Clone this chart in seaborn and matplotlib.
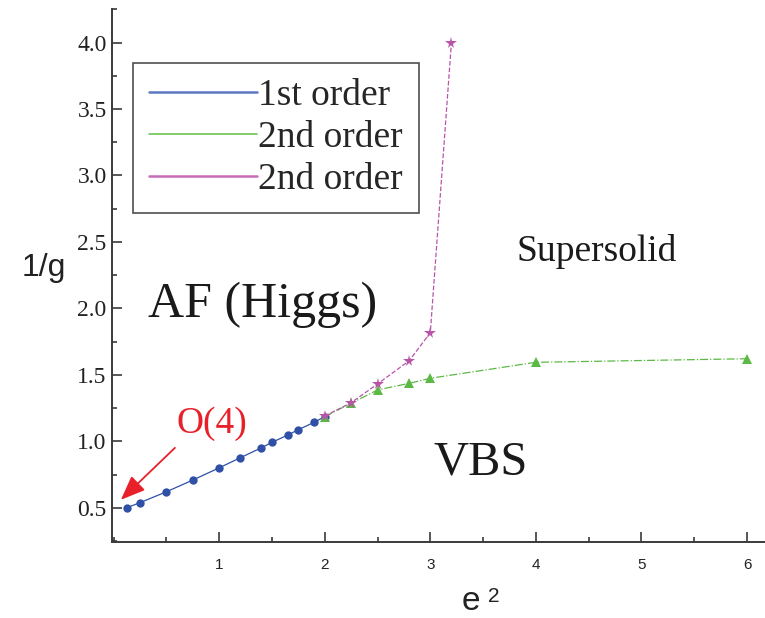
import numpy as np
import pandas as pd
import seaborn as sns
import matplotlib.pyplot as plt
from matplotlib.lines import Line2D
from matplotlib.ticker import MultipleLocator

# phase boundary data (e^2, 1/g)
e2_first = [0.125, 0.25, 0.5, 0.75, 1.0, 1.2, 1.4, 1.5, 1.65, 1.75, 1.9, 2.0]
g_first = [0.50, 0.538, 0.62, 0.708, 0.80, 0.876, 0.951, 0.992, 1.047, 1.087, 1.143, 1.185]

e2_second_a = [2.0, 2.25, 2.5, 2.8, 3.0, 4.0, 6.0]
g_second_a = [1.185, 1.286, 1.386, 1.436, 1.474, 1.594, 1.621]

e2_second_b = [2.0, 2.25, 2.5, 2.8, 3.0, 3.2]
g_second_b = [1.19, 1.29, 1.431, 1.606, 1.817, 4.0]

legend_labels = ["1st order", "2nd order", "2nd order"]

sns.set_style("white")
plt.rcParams['font.family'] = ['Liberation Serif', 'DejaVu Serif']

fig = plt.figure(figsize=(7.65, 6.18), dpi=100)
ax = fig.add_axes([0.1468, 0.1225, 0.8532, 0.8625])

blue, green, magenta = "#2f50a6", "#5cb946", "#b855a8"

sns.lineplot(x=e2_first, y=g_first, sort=False, color=blue, marker="o", markersize=6,
             markeredgewidth=0, linewidth=0.9, ax=ax, legend=False)
sns.lineplot(x=e2_second_a, y=g_second_a, sort=False, color=green, marker="^", markersize=6.5,
             markeredgewidth=0, linewidth=0.9, linestyle="-.", ax=ax, legend=False)
sns.lineplot(x=e2_second_b, y=g_second_b, sort=False, color=magenta, marker="*", markersize=8.5,
             markeredgewidth=0, linewidth=0.9, linestyle="--", ax=ax, legend=False)

ax.set_xlim(-0.012, 6.17)
ax.set_ylim(0.24, 4.25)

ax.set_xticks([1, 2, 3, 4, 5, 6])
ax.xaxis.set_minor_locator(MultipleLocator(0.5))
ax.yaxis.set_major_locator(MultipleLocator(0.5))
ax.yaxis.set_minor_locator(MultipleLocator(0.25))
ax.set_yticklabels([f"{t:.1f}" for t in ax.get_yticks()])

for s in ["top", "right"]:
    ax.spines[s].set_visible(False)
for s in ["left", "bottom"]:
    ax.spines[s].set_color("#3a3a3a")
    ax.spines[s].set_linewidth(1.4)

ax.tick_params(which="both", direction="in", color="#3a3a3a", width=1.2,
               bottom=True, left=True, top=False, right=False)
ax.tick_params(which="major", length=7)
ax.tick_params(which="minor", length=3.6)
ax.tick_params(axis="x", which="major", labelsize=11, pad=11, labelcolor="#222222")
ax.tick_params(axis="y", which="major", labelsize=17, pad=4, labelcolor="#222222")
for lab in ax.get_xticklabels():
    lab.set_fontfamily("Liberation Sans")

# axis labels
fig.text(44, 618 - 268, "1/g", transform=None, family="Liberation Sans", fontsize=23,
         ha="center", va="center", color="#222222")
fig.text(471, 618 - 601, "e", transform=None, family="Liberation Sans", fontsize=24,
         ha="center", va="center", color="#222222")
fig.text(494, 618 - 596, "2", transform=None, family="Liberation Sans", fontsize=15,
         ha="center", va="center", color="#222222")

# region labels
ax.text(1.41, 2.03, "AF (Higgs)", fontsize=36, ha="center", va="center", color="#1a1a1a")
ax.text(3.48, 0.84, "VBS", fontsize=35, ha="center", va="center", color="#1a1a1a")
ax.text(4.58, 2.43, "Supersolid", fontsize=27, ha="center", va="center", color="#1a1a1a")
ax.text(0.93, 1.13, "O(4)", fontsize=27, ha="center", va="center", color="#e8202a")
ax.annotate("", xy=(0.05, 0.545), xytext=(0.6, 0.965),
            arrowprops=dict(arrowstyle="-|>,head_length=1.5,head_width=0.6",
                            color="#e8202a", lw=1.3))

handles = [Line2D([], [], color="#5a78c0", lw=1.8),
           Line2D([], [], color="#6ec456", lw=1.2),
           Line2D([], [], color="#c86cb8", lw=1.8)]
leg = ax.legend(handles, legend_labels, loc="upper left", bbox_to_anchor=(0.0317, 0.900),
                fontsize=27, frameon=True, fancybox=False, handlelength=2.9,
                handletextpad=0.02, labelspacing=0.2, borderpad=0.42, borderaxespad=0)
leg.get_frame().set_edgecolor("#222222")
leg.get_frame().set_linewidth(1.2)

fig.savefig("out.png", dpi=100)
